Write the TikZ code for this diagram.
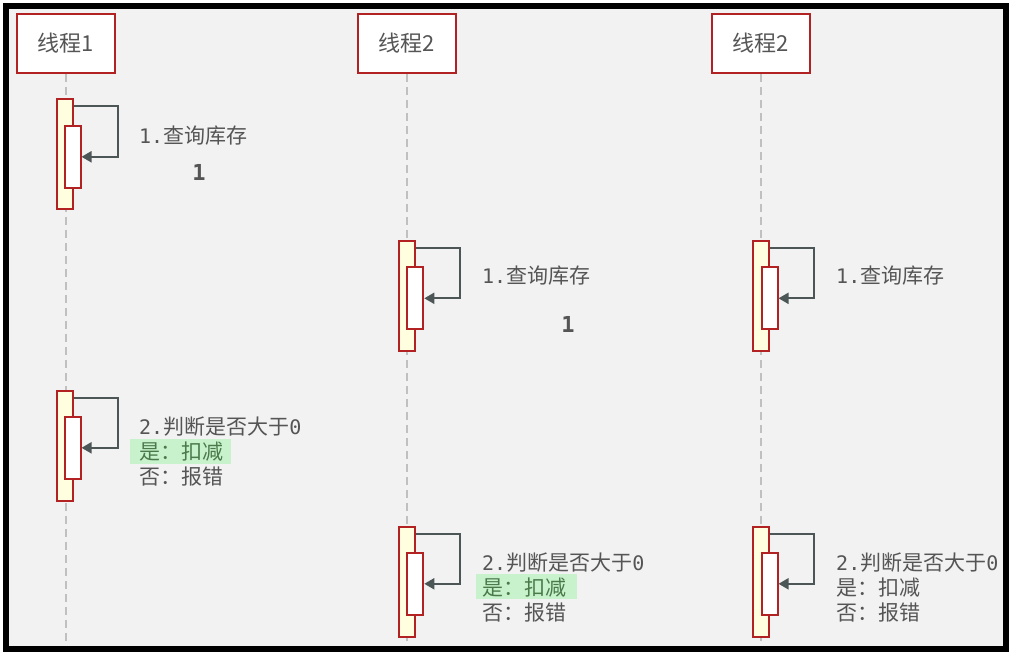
\documentclass[tikz,border=0pt]{standalone}
\usepackage{fontspec}
\newfontfamily\cjkf{Noto Sans CJK SC}
\newfontfamily\monof{DejaVu Sans Mono}
\usetikzlibrary{arrows.meta}
\definecolor{bg}{HTML}{F2F2F2}
\definecolor{fr}{HTML}{B22222}
\definecolor{barfill}{HTML}{FFFFE0}
\definecolor{ln}{HTML}{4D5656}
\definecolor{tx}{HTML}{555555}
\definecolor{hl}{HTML}{C8F2CC}
\definecolor{hltx}{HTML}{4A7A4A}
\definecolor{life}{HTML}{C0C0C0}
\newcommand\mn[1]{{\monof\fontsize{20}{24}\selectfont #1}}
\begin{document}
\begin{tikzpicture}[x=1pt,y=-1pt,
 head/.style={draw=fr, line width=2pt, fill=white, minimum width=98pt, minimum height=59pt, inner sep=0pt, font=\fontsize{22}{26}\cjkf, text=tx},
 outerbar/.style={draw=fr, line width=2pt, fill=barfill, minimum width=16pt, minimum height=110pt, inner sep=0pt},
 innerbar/.style={draw=fr, line width=2pt, fill=white, minimum width=16pt, minimum height=62pt, inner sep=0pt},
 selfloop/.style={draw=ln, line width=2pt, -{Triangle[length=10pt,width=11pt]}},
 lifeline/.style={draw=life, line width=2pt, dash pattern=on 8pt off 5pt},
 lbl/.style={anchor=base west, inner sep=0pt, text=tx, font=\fontsize{21}{25}\cjkf},
 hlbox/.style={fill=hl, minimum width=101pt, minimum height=25pt, inner sep=0pt},
 num/.style={inner sep=0pt, text=tx, font=\monof\bfseries\fontsize{22}{24}\selectfont}
]
\useasboundingbox (0,0) rectangle (1012,656);
\fill[white] (0,0) rectangle (1012,656);
\fill[bg] (5.5,6) rectangle (1006,649);
\draw[black, line width=6pt] (5.5,6) rectangle (1006,649);

% headers
\node[head] (h1) at (66,43.3) {线程1};
\node[head] (h2) at (407,43.3) {线程2};
\node[head] (h3) at (761,43.3) {线程2};

% lifelines
\coordinate (e1) at (66,645);
\coordinate (e2) at (407,645);
\coordinate (e3) at (761,645);
\draw[lifeline] (h1.south) -- (e1);
\draw[lifeline] (h2.south) -- (e2);
\draw[lifeline] (h3.south) -- (e3);

% thread 1
\node[outerbar] (o11) at (64.5,154.3) {};
\node[innerbar] (i11) at (72.5,156.8) {};
\draw[selfloop] ([yshift=-8pt]o11.north east) -- ++(44.5,0) |- (i11.east);
\node[outerbar] (o12) at (64.5,445.5) {};
\node[innerbar] (i12) at (72.5,447.8) {};
\draw[selfloop] ([yshift=-8pt]o12.north east) -- ++(44.5,0) |- (i12.east);

% thread 2
\node[outerbar] (o21) at (406.5,296.3) {};
\node[innerbar] (i21) at (415.3,298.3) {};
\draw[selfloop] ([yshift=-8pt]o21.north east) -- ++(44.5,0) |- (i21.east);
\node[outerbar] (o22) at (406.5,581.5) {};
\node[innerbar] (i22) at (415.3,583.8) {};
\draw[selfloop] ([yshift=-8pt]o22.north east) -- ++(44.5,0) |- (i22.east);

% thread 3
\node[outerbar] (o31) at (760.5,296.3) {};
\node[innerbar] (i31) at (769.5,298.3) {};
\draw[selfloop] ([yshift=-8pt]o31.north east) -- ++(44.5,0) |- (i31.east);
\node[outerbar] (o32) at (760.5,581.5) {};
\node[innerbar] (i32) at (769.5,583.8) {};
\draw[selfloop] ([yshift=-8pt]o32.north east) -- ++(44.5,0) |- (i32.east);

% labels step 1
\node[lbl] (t11) at (139,143) {\mn{1.}查询库存};
\node[num] (n1) at (199,172) {1};
\node[lbl] (t21) at (482,283) {\mn{1.}查询库存};
\node[num] (n2) at (568,324) {1};
\node[lbl] (t31) at (836,283) {\mn{1.}查询库存};

% labels step 2
\node[hlbox] (hl1) at (180.5,451) {};
\node[lbl] (t12a) at (139,434) {\mn{2.}判断是否大于\mn{0}};
\node[lbl, text=hltx] (t12b) at (139,459) {是：扣减};
\node[lbl] (t12c) at (139,484) {否：报错};

\node[hlbox] (hl2) at (526.5,586) {};
\node[lbl] (t22a) at (482,570) {\mn{2.}判断是否大于\mn{0}};
\node[lbl, text=hltx] (t22b) at (482,595) {是：扣减};
\node[lbl] (t22c) at (482,620) {否：报错};

\node[lbl] (t32a) at (836,570) {\mn{2.}判断是否大于\mn{0}};
\node[lbl] (t32b) at (836,595) {是：扣减};
\node[lbl] (t32c) at (836,620) {否：报错};
\end{tikzpicture}
\end{document}
